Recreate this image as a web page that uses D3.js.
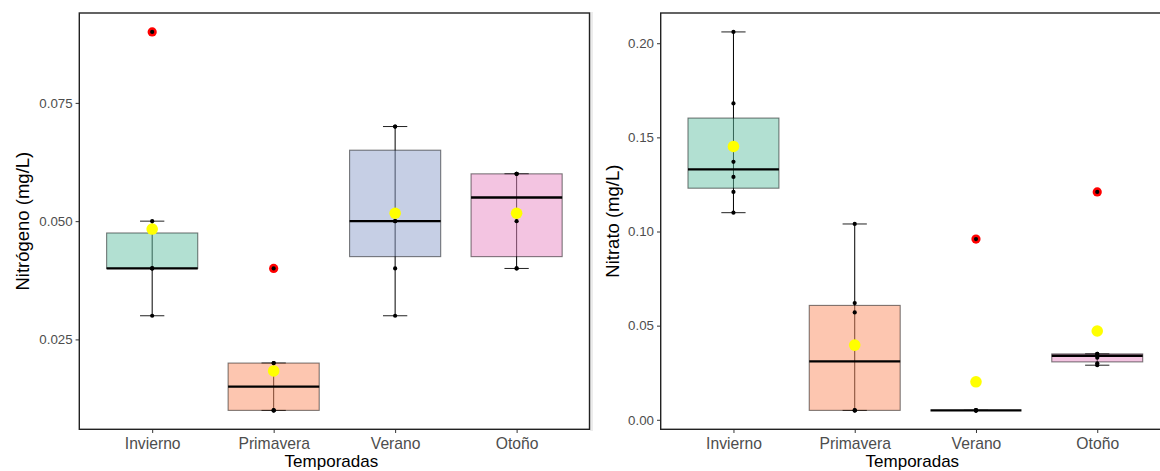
<!DOCTYPE html>
<html>
<head>
<meta charset="utf-8">
<script src="https://cdn.jsdelivr.net/npm/d3@7"></script>
<style>
  html, body { margin: 0; padding: 0; background: #fff; }
  svg { display: block; font-family: "Liberation Sans", Arial, sans-serif; }
</style>
</head>
<body>
<svg id="chart" width="1160" height="471"></svg>
<script>
// Seasons on the x axis
const temporadas = ["Invierno", "Primavera", "Verano", "Otoño"];

// Observations per season, total nitrogen (mg/L)
const nitrogenoInvierno  = [0.03, 0.04, 0.04, 0.04, 0.05, 0.09];
const nitrogenoPrimavera = [0.01, 0.01, 0.01, 0.02, 0.02, 0.04];
const nitrogenoVerano    = [0.03, 0.04, 0.05, 0.05, 0.07, 0.07];
const nitrogenoOtono     = [0.04, 0.04, 0.05, 0.06, 0.06, 0.06];

// Observations per season, nitrate (mg/L)
const nitratoInvierno  = [0.110, 0.121, 0.129, 0.137, 0.168, 0.206];
const nitratoPrimavera = [0.005, 0.005, 0.005, 0.057, 0.062, 0.104];
const nitratoVerano    = [0.005, 0.005, 0.005, 0.005, 0.005, 0.096];
const nitratoOtono     = [0.029, 0.030, 0.033, 0.035, 0.035, 0.121];

// Axis ticks
const ticksNitrogeno = [0.025, 0.050, 0.075];
const ticksNitrato   = [0.00, 0.05, 0.10, 0.15, 0.20];

// Set2 colours, drawn at half opacity
const coloresTemporada = ["#66C2A5", "#FC8D62", "#8DA0CB", "#E78AC3"];

const svg = d3.select("#chart");

// thin separator strip between the two plots
svg.append("rect").attr("x", 590).attr("y", 12).attr("width", 3).attr("height", 419)
  .attr("fill", "#ececec");

const panels = [
  {
    left: 79.3, right: 589.5, top: 13, bottom: 429.3,
    groups: [nitrogenoInvierno, nitrogenoPrimavera, nitrogenoVerano, nitrogenoOtono],
    ticks: ticksNitrogeno, fmt: d3.format(".3f"),
    title: "Nitrógeno (mg/L)", titleX: 29
  },
  {
    left: 660.7, right: 1170, top: 13, bottom: 429.3,
    groups: [nitratoInvierno, nitratoPrimavera, nitratoVerano, nitratoOtono],
    ticks: ticksNitrato, fmt: d3.format(".2f"),
    title: "Nitrato (mg/L)", titleX: 619
  }
];

function boxStats(values) {
  const v = values.slice().sort(d3.ascending);
  const q1 = d3.quantile(v, 0.25), med = d3.quantile(v, 0.5), q3 = d3.quantile(v, 0.75);
  const iqr = q3 - q1;
  const loFence = q1 - 1.5 * iqr, hiFence = q3 + 1.5 * iqr;
  const inside = v.filter(d => d >= loFence && d <= hiFence);
  return {
    q1, med, q3,
    lo: d3.min(inside), hi: d3.max(inside),
    outliers: v.filter(d => d < loFence || d > hiFence),
    mean: d3.mean(v), values: v
  };
}

panels.forEach(p => {
  const all = p.groups.flat();
  const [mn, mx] = d3.extent(all);
  const pad = (mx - mn) * 0.05;

  const y = d3.scaleLinear().domain([mn - pad, mx + pad]).range([p.bottom, p.top]);
  const x = d3.scalePoint().domain(temporadas).range([p.left, p.right]).padding(0.6);
  const step = x.step();

  const g = svg.append("g");

  // y axis
  const ya = g.append("g").attr("transform", `translate(${p.left},0)`)
    .call(d3.axisLeft(y).tickValues(p.ticks).tickFormat(p.fmt).tickSize(3.7).tickPadding(3));
  ya.select(".domain").remove();
  ya.selectAll("line").attr("stroke", "#333").attr("stroke-width", 1);
  ya.selectAll("text").attr("fill", "#4d4d4d").style("font-size", "13.3px")
    .attr("font-family", "Liberation Sans, Arial, sans-serif");

  // x axis
  const xa = g.append("g").attr("transform", `translate(0,${p.bottom})`)
    .call(d3.axisBottom(x).tickSize(3.7).tickPadding(3));
  xa.select(".domain").remove();
  xa.selectAll("line").attr("stroke", "#333").attr("stroke-width", 1);
  xa.selectAll("text").attr("fill", "#4d4d4d").style("font-size", "15.7px")
    .attr("font-family", "Liberation Sans, Arial, sans-serif")
    .attr("y", 19.3).attr("dy", null);

  const stats = p.groups.map(boxStats);

  stats.forEach((s, i) => {
    const cx = x(temporadas[i]);
    const bw = step * 0.75, cw = step * 0.2;
    const cg = g.append("g");

    // error bar: whisker span with caps
    cg.append("line").attr("x1", cx).attr("x2", cx).attr("y1", y(s.lo)).attr("y2", y(s.hi))
      .attr("stroke", "#000").attr("stroke-width", 1);
    [s.lo, s.hi].forEach(v => {
      cg.append("line").attr("x1", cx - cw / 2).attr("x2", cx + cw / 2)
        .attr("y1", y(v)).attr("y2", y(v))
        .attr("stroke", "#222").attr("stroke-width", 1);
    });

    // box
    cg.append("rect").attr("x", cx - bw / 2).attr("width", bw)
      .attr("y", y(s.q3)).attr("height", Math.max(0, y(s.q1) - y(s.q3)))
      .attr("fill", coloresTemporada[i]).attr("fill-opacity", 0.5)
      .attr("stroke", "#000").attr("stroke-opacity", 0.5).attr("stroke-width", 1.1);

    // median
    cg.append("line").attr("x1", cx - bw / 2).attr("x2", cx + bw / 2)
      .attr("y1", y(s.med)).attr("y2", y(s.med))
      .attr("stroke", "#000").attr("stroke-width", 2.3);

    // outliers
    s.outliers.forEach(v => {
      cg.append("circle").attr("cx", cx).attr("cy", y(v)).attr("r", 4.6).attr("fill", "#ff0000");
    });

    // observations
    s.values.forEach(v => {
      cg.append("circle").attr("cx", cx).attr("cy", y(v)).attr("r", 2.1).attr("fill", "#000");
    });

    // mean
    cg.append("circle").attr("cx", cx).attr("cy", y(s.mean)).attr("r", 5.8).attr("fill", "#ffff00");
  });

  // panel border
  g.append("rect").attr("x", p.left).attr("y", p.top)
    .attr("width", p.right - p.left).attr("height", p.bottom - p.top)
    .attr("fill", "none").attr("stroke", "#222").attr("stroke-width", 1.4);

  // axis titles
  g.append("text").attr("x", (p.left + p.right) / 2 - 3).attr("y", 466.5)
    .attr("text-anchor", "middle").attr("fill", "#000").style("font-size", "17px")
    .text("Temporadas");
  g.append("text")
    .attr("transform", `translate(${p.titleX},${(p.top + p.bottom) / 2}) rotate(-90)`)
    .attr("text-anchor", "middle").attr("fill", "#000").style("font-size", "18.5px")
    .text(p.title);
});
</script>
</body>
</html>
